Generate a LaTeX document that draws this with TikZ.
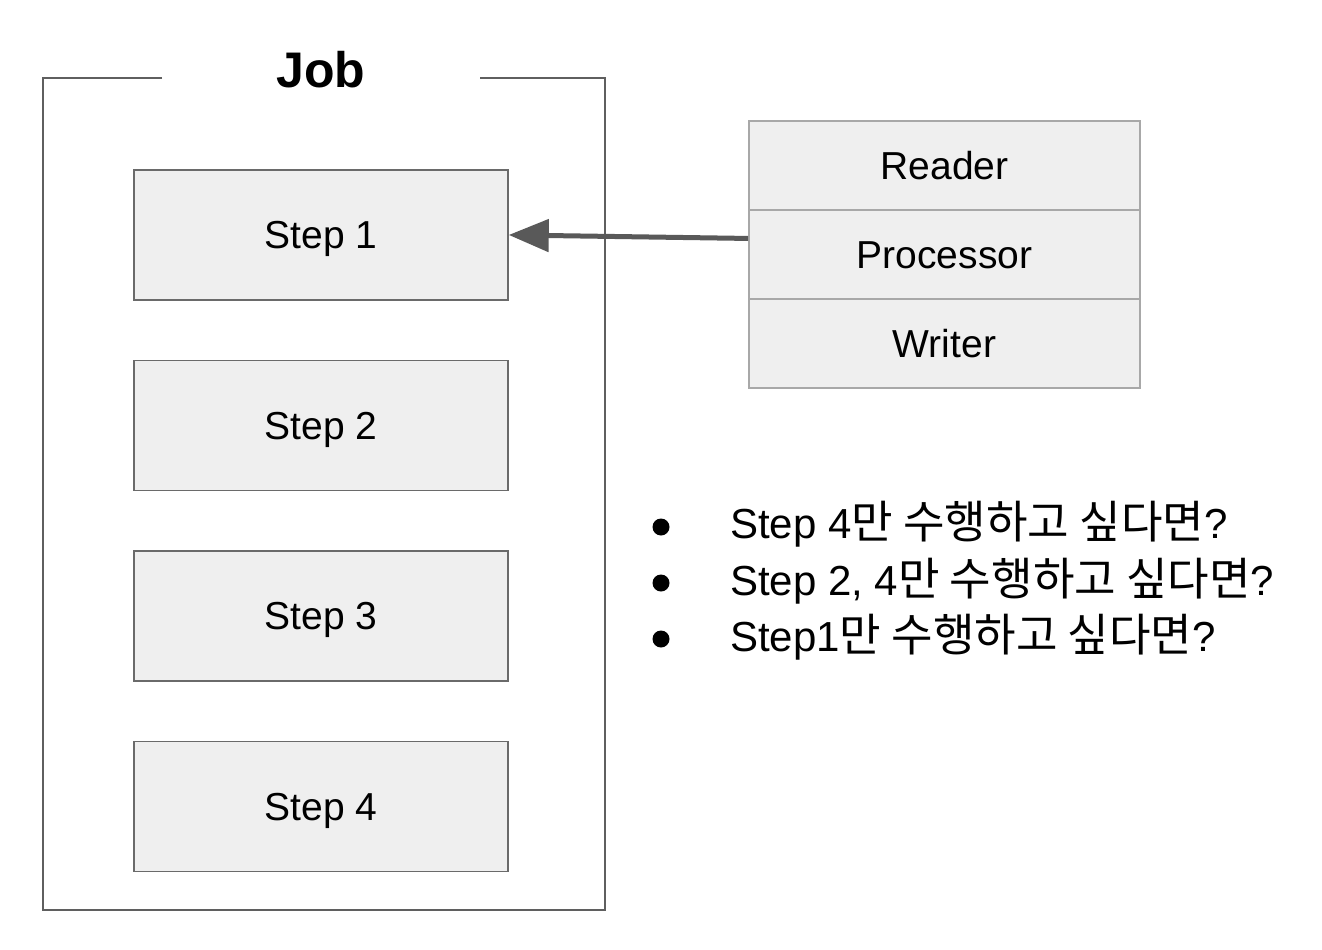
\documentclass[tikz,border=0pt]{standalone}
\usepackage{fontspec}
\setmainfont{Liberation Sans}
\newfontfamily\kr[Scale=1.075]{Noto Sans CJK KR}
\usepackage{tikz}
\usetikzlibrary{arrows.meta,matrix,positioning}
\usepackage{xcolor}
\definecolor{boxfill}{HTML}{EFEFEF}
\definecolor{boxline}{HTML}{6A6A6A}
\definecolor{frameline}{HTML}{5F5F5F}
\definecolor{partline}{HTML}{A8A8A8}
\definecolor{arrowgray}{HTML}{595959}

\begin{document}
\begin{tikzpicture}[x=1pt,y=-1pt,
    stepbox/.style={draw=boxline,line width=1.5pt,fill=boxfill,minimum width=374pt,minimum height=130pt,inner sep=0pt,font=\fontsize{39}{47}\selectfont,text height=28pt,text depth=0pt},
    partbox/.style={draw=partline,line width=1.5pt,fill=boxfill,minimum width=391pt,minimum height=89pt,inner sep=0pt,font=\fontsize{39}{47}\selectfont,text height=28pt,text depth=0pt},
    question/.style={anchor=base west,inner sep=0pt,font=\fontsize{42}{50}\selectfont},
    dot/.style={circle,fill=black,inner sep=0pt,minimum size=17pt}]
    \useasboundingbox (0,0) rectangle (1322,950);
    % job frame, open at the top for the title
    \draw[frameline,line width=1.5pt] (162,78) -- (43,78) -- (43,910) -- (605,910) -- (605,78) -- (480,78);
    \node[font=\fontsize{50}{60}\selectfont\bfseries,inner sep=0pt,text height=36pt,text depth=0pt] (job) at (321,69) {Job};
    \matrix(S) [matrix of nodes,ampersand replacement=\&,row sep=59pt,inner sep=0pt,anchor=north,nodes={stepbox}] at (321,169) {
      Step 1 \\
      Step 2 \\
      Step 3 \\
      Step 4 \\
    };
    \matrix(W) [matrix of nodes,ampersand replacement=\&,row sep=-1.5pt,inner sep=0pt,anchor=north west,nodes={partbox}] at (748,120) {
      Reader \\
      Processor \\
      Writer \\
    };
    \draw[arrowgray,line width=5pt,-{Triangle[length=40pt,width=32pt]}] ([yshift=16pt]W-2-1.west) -- (S-1-1.east);
    % questions
    \node[question] (q1) at (730,538) {Step 4{\kr 만 수행하고 싶다면}?};
    \node[question] (q2) at (730,595) {Step 2, 4{\kr 만 수행하고 싶다면}?};
    \node[question] (q3) at (730,651) {Step1{\kr 만 수행하고 싶다면}?};
    \node[dot] (b1) at (661,527) {};
    \node[dot] (b2) at (661,583) {};
    \node[dot] (b3) at (661,639) {};
\end{tikzpicture}
\end{document}
